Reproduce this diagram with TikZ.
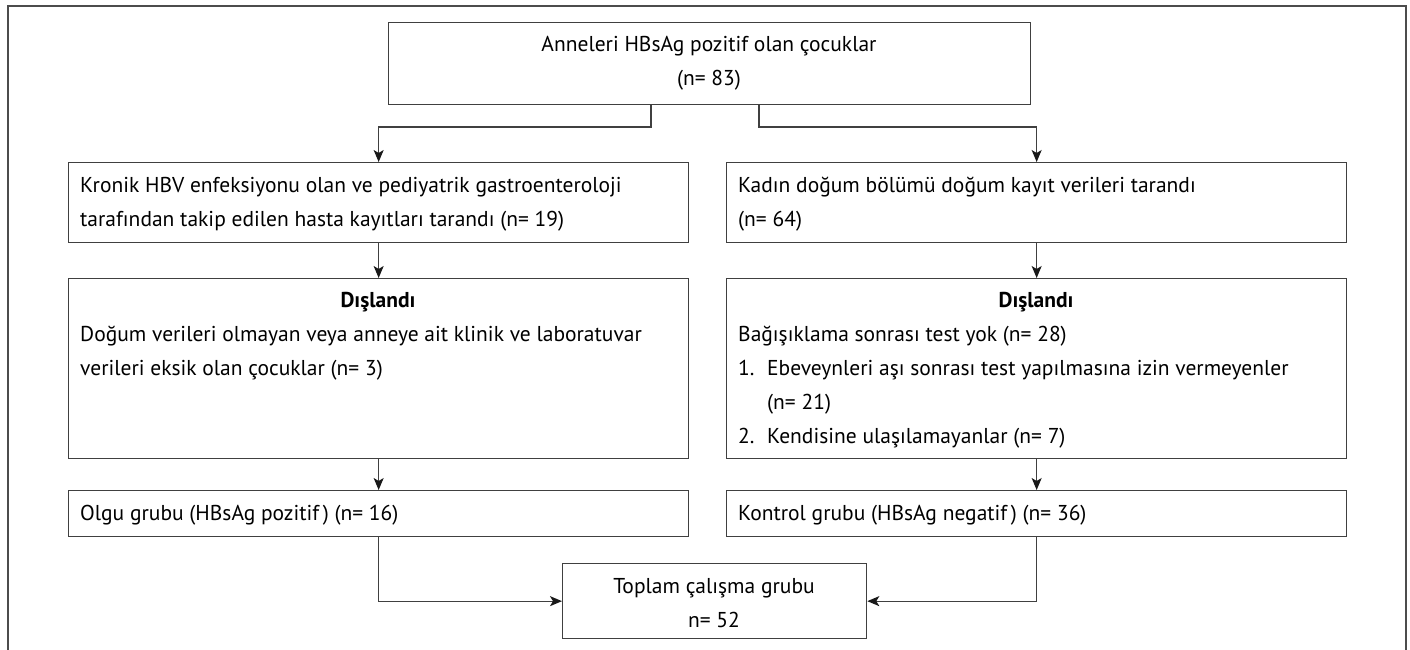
\documentclass[tikz,border=0pt]{standalone}
\usepackage{fontspec}
\setmainfont{PT Sans}
\usetikzlibrary{arrows.meta}
\begin{document}
\begin{tikzpicture}[x=1pt,y=-1pt,
  box/.style={draw=black!75, line width=1.3pt, rectangle, inner sep=0pt, anchor=north west},
  lbl/.style={anchor=base west, inner sep=0pt, font=\fontsize{21.5}{34}\selectfont},
  clbl/.style={lbl, anchor=base},
  conn/.style={draw=black!75, line width=1.3pt},
  arr/.style={conn, -{Stealth[length=12pt,width=10pt,inset=3pt,color=black!90]}}]
\useasboundingbox (0,0) rectangle (1410,650);
\draw[draw=black!70, line width=1.2pt] (8,650) -- (8,6) -- (1406,6) -- (1406,650);

% boxes
\node[box, minimum width=642pt, minimum height=82pt] (top) at (388,22) {};
\node[box, minimum width=620pt, minimum height=80pt] (l1) at (68,162) {};
\node[box, minimum width=620pt, minimum height=80pt] (r1) at (726,162) {};
\node[box, minimum width=620pt, minimum height=180pt] (l2) at (68,278) {};
\node[box, minimum width=620pt, minimum height=180pt] (r2) at (726,278) {};
\node[box, minimum width=620pt, minimum height=46pt] (olgu) at (68,490) {};
\node[box, minimum width=620pt, minimum height=46pt] (kont) at (726,490) {};
\node[box, minimum width=304pt, minimum height=75pt] (tot) at (562,563) {};

% texts
\node[clbl] (t0a) at (709,52) {Anneleri HBsAg pozitif olan çocuklar};
\node[clbl] (t0b) at (709,86) {(n= 83)};
\node[lbl] (tl1a) at (80,192) {Kronik HBV enfeksiyonu olan ve pediyatrik gastroenteroloji};
\node[lbl] (tl1b) at (80,226) {tarafından takip edilen hasta kayıtları tarandı (n= 19)};
\node[lbl] (tr1a) at (738,192) {Kadın doğum bölümü doğum kayıt verileri tarandı};
\node[lbl] (tr1b) at (738,226) {(n= 64)};
\node[clbl, font=\fontsize{21.5}{34}\selectfont\bfseries] (tl2h) at (378,307) {Dışlandı};
\node[lbl] (tl2a) at (80,341) {Doğum verileri olmayan veya anneye ait klinik ve laboratuvar};
\node[lbl] (tl2b) at (80,375) {verileri eksik olan çocuklar (n= 3)};
\node[clbl, font=\fontsize{21.5}{34}\selectfont\bfseries] (tr2h) at (1036,307) {Dışlandı};
\node[lbl] (tr2a) at (738,341) {Bağışıklama sonrası test yok (n= 28)};
\node[lbl] (tr2n1) at (738,375) {1.};
\node[lbl] (tr2b) at (767,375) {Ebeveynleri aşı sonrası test yapılmasına izin vermeyenler};
\node[lbl] (tr2c) at (767,409) {(n= 21)};
\node[lbl] (tr2n2) at (738,443) {2.};
\node[lbl] (tr2d) at (767,443) {Kendisine ulaşılamayanlar (n= 7)};
\node[lbl] (tolgu) at (80,520) {Olgu grubu (HBsAg pozitif\,) (n= 16)};
\node[lbl] (tkont) at (738,520) {Kontrol grubu (HBsAg negatif\,) (n= 36)};
\node[clbl] (ttota) at (714,593) {Toplam çalışma grubu};
\node[clbl] (ttotb) at (714,627) {n= 52};

% connectors
\coordinate (bl) at (651,127);
\coordinate (br) at (759,127);
\draw[arr] (top.south -| bl) -- (bl) -| (l1.north);
\draw[arr] (top.south -| br) -- (br) -| (r1.north);
\draw[arr] (l1) -- (l2);
\draw[arr] (r1) -- (r2);
\draw[arr] (l2) -- (olgu);
\draw[arr] (r2) -- (kont);
\draw[arr] (olgu.south) |- (tot.west);
\draw[arr] (kont.south) |- (tot.east);
\end{tikzpicture}
\end{document}
